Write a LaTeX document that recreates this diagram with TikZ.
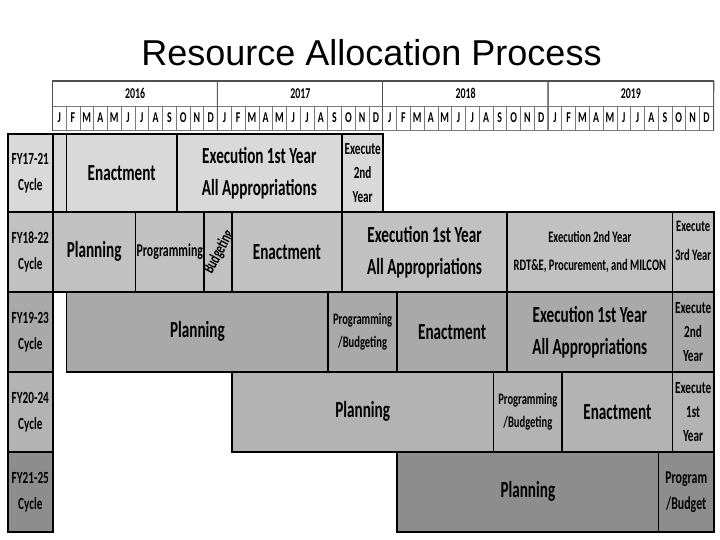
\documentclass[tikz,border=0pt]{standalone}
\usepackage{fontspec}
\setmainfont{Carlito}[FakeStretch=0.66]
\newfontfamily\titlefont{Liberation Sans}
\definecolor{cA}{HTML}{D9D9D9}
\definecolor{cB}{HTML}{C1C1C1}
\definecolor{cC}{HTML}{A9A9A9}
\definecolor{cD}{HTML}{B3B3B3}
\definecolor{cE}{HTML}{8D8D8D}
\definecolor{hdrline}{HTML}{7A7A7A}
\definecolor{hdrdark}{HTML}{505050}
\newcommand\fsz[2]{\bfseries\fontsize{#1}{#2}\selectfont}
% name, month start, month end, row top, style, text
\newcommand\mcell[6]{%
  \pgfmathsetmacro\cx{52+#2*13.77}%
  \pgfmathsetmacro\cw{(#3-#2)*13.77}%
  \node[cellbox,#5,minimum width=\cw pt] (#1) at (\cx,#4) {#6};}
\begin{document}
\begin{tikzpicture}[x=1pt,y=-1pt,
  cellbox/.style={draw=black,line width=1.6pt,inner sep=0pt,anchor=north west,
    align=center,font=\fsz{23}{32}},
  rA/.style={fill=cA,minimum height=78pt},
  rB/.style={fill=cB,minimum height=80pt},
  rC/.style={fill=cC,minimum height=80pt},
  rD/.style={fill=cD,minimum height=80pt},
  rE/.style={fill=cE,minimum height=80pt},
  small/.style={font=\fsz{17}{24}},
  midf/.style={font=\fsz{18}{26}},
  labf/.style={font=\fsz{17}{26}},
  pbf/.style={font=\fsz{16}{23}},
  yearbox/.style={draw=hdrline,line width=0.9pt,inner sep=0pt,anchor=north west,
    minimum width=165.24pt,minimum height=25pt,text height=9pt,text depth=0pt,
    font=\fsz{15}{18}},
  monthbox/.style={draw=hdrline,line width=0.6pt,inner sep=0pt,anchor=north west,
    minimum width=13.77pt,minimum height=24pt,text height=9pt,text depth=0pt,
    font=\fsz{15}{18}}]
\useasboundingbox (0,0) rectangle (720,540);
\node[anchor=base,font=\titlefont\fontsize{36}{40}\selectfont] (title) at (371.5,66) {Resource Allocation Process};
% header
\foreach \yr [count=\k from 0] in {2016,2017,2018,2019}{
  \foreach \l [count=\j from 0] in {J,F,M,A,M,J,J,A,S,O,N,D}{
    \node[monthbox] (m\yr-\j) at ({52+(\k*12+\j)*13.77},106) {\l};
  }
  \node[yearbox] (y\yr) at ({52+\k*165.24},81) {\yr};
  \draw[hdrdark,line width=0.9pt] (y\yr.north west) -- (m\yr-0.south west);
}
\draw[hdrdark,line width=0.9pt] (y2019.north east) -- (m2019-11.south east);
\draw[hdrdark,line width=1.6pt] (y2016.north west) -- (y2019.north east);
% row 1
\node[cellbox,rA,labf,minimum width=45pt] (l1) at (7,133) {FY17-21\\Cycle};
\mcell{r1a}{0}{1}{133}{rA}{}
\mcell{r1b}{1}{9}{133}{rA}{Enactment}
\mcell{r1c}{9}{21}{133}{rA}{Execution 1st Year\\All Appropriations}
\mcell{r1d}{21}{24}{133}{rA,small}{Execute\\2nd\\Year}
% row 2
\node[cellbox,rB,labf,minimum width=45pt] (l2) at (7,211) {FY18-22\\Cycle};
\mcell{r2a}{0}{6}{211}{rB}{Planning}
\mcell{r2b}{6}{11}{211}{rB,midf}{Programming}
\begin{scope}
  \clip ({52+11*13.77},211) rectangle ({52+13*13.77},291);
  \fill[cB] ({52+11*13.77},211) rectangle ({52+13*13.77},291);
  \node[rotate=62,font=\fsz{17}{20}] (bud) at (219,252) {Budgeting};
\end{scope}
\mcell{r2c}{11}{13}{211}{rB,fill=none}{}
\mcell{r2d}{13}{21}{211}{rB}{Enactment}
\mcell{r2e}{21}{33}{211}{rB}{Execution 1st Year\\All Appropriations}
\mcell{r2f}{33}{45}{211}{rB,font=\fsz{16}{28}}{Execution 2nd Year\\RDT\&E, Procurement, and MILCON}
\mcell{r2g}{45}{48}{211}{rB,font=\fsz{16}{24}}{\raisebox{6pt}[0pt][0pt]{\begin{tabular}{@{}c@{}}Execute\\[5pt]3rd Year\end{tabular}}}
% row 3
\node[cellbox,rC,labf,minimum width=45pt] (l3) at (7,291) {FY19-23\\Cycle};
\mcell{r3a}{1}{20}{291}{rC}{Planning}
\mcell{r3b}{20}{25}{291}{rC,pbf}{Programming\\/Budgeting}
\mcell{r3c}{25}{33}{291}{rC}{Enactment}
\mcell{r3d}{33}{45}{291}{rC}{Execution 1st Year\\All Appropriations}
\mcell{r3e}{45}{48}{291}{rC,small}{Execute\\2nd\\Year}
% row 4
\node[cellbox,rD,labf,minimum width=45pt] (l4) at (7,371) {FY20-24\\Cycle};
\mcell{r4a}{13}{32}{371}{rD}{Planning}
\mcell{r4b}{32}{37}{371}{rD,pbf}{Programming\\/Budgeting}
\mcell{r4c}{37}{45}{371}{rD}{Enactment}
\mcell{r4d}{45}{48}{371}{rD,small}{Execute\\1st\\Year}
% row 5
\node[cellbox,rE,labf,minimum width=45pt] (l5) at (7,451) {FY21-25\\Cycle};
\mcell{r5a}{25}{44}{451}{rE}{Planning}
\mcell{r5b}{44}{48}{451}{rE,midf}{Program\\/Budget}
\end{tikzpicture}
\end{document}
